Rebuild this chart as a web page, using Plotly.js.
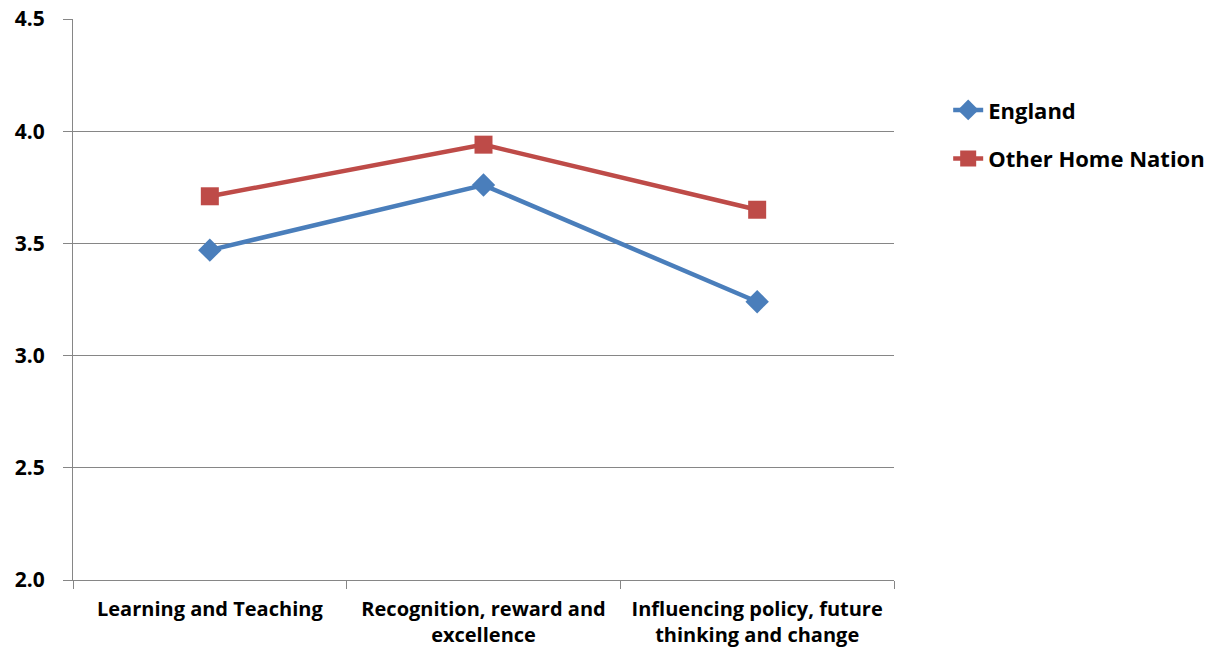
<!DOCTYPE html>
<html>
<head>
<meta charset="utf-8">
<script src="https://cdn.plot.ly/plotly-3.0.1.min.js"></script>
<style>
  html, body { margin: 0; padding: 0; background: #ffffff; }
  #chart { width: 1213px; height: 653px; }
</style>
</head>
<body>
<div id="chart"></div>
<script>
// Mean scores by area, for England and the other home nations
const categories = [
  "Learning and Teaching",
  "Recognition, reward and<br>excellence",
  "Influencing policy, future<br>thinking and change"
];
const englandScores = [3.47, 3.76, 3.24];
const otherNationScores = [3.71, 3.94, 3.65];

const FONT = "'Open Sans', 'Liberation Sans', sans-serif";

const traces = [
  {
    type: "scatter",
    mode: "lines+markers",
    name: "England",
    legendgroup: "a",
    x: categories,
    y: englandScores,
    line: { color: "#4A7EBB", width: 4.5 },
    marker: { symbol: "diamond", size: 18, color: "#4A7EBB" }
  },
  {
    type: "scatter",
    mode: "lines+markers",
    name: "Other Home Nation",
    legendgroup: "b",
    x: categories,
    y: otherNationScores,
    line: { color: "#BE4B48", width: 4.5 },
    marker: { symbol: "square", size: 18, color: "#BE4B48" }
  }
];

const layout = {
  width: 1213,
  height: 653,
  margin: { l: 73, r: 319, t: 19, b: 73, autoexpand: false },
  paper_bgcolor: "#ffffff",
  plot_bgcolor: "#ffffff",
  font: { family: FONT, color: "#000000" },
  showlegend: true,
  legend: {
    x: 1.066,
    y: 0.875,
    xanchor: "left",
    yanchor: "top",
    traceorder: "grouped",
    tracegroupgap: 17,
    font: { family: FONT, size: 22, color: "#000000", weight: "bold" },
    bgcolor: "rgba(0,0,0,0)"
  },
  xaxis: {
    type: "category",
    range: [-0.5, 2.5],
    automargin: false,
    showgrid: false,
    showline: true,
    linecolor: "#868686",
    linewidth: 1,
    ticks: "outside",
    tickson: "boundaries",
    ticklen: 8,
    tickcolor: "#868686",
    ticklabelstandoff: 11,
    tickfont: { family: FONT, size: 20, color: "#000000", weight: "bold" },
    fixedrange: true
  },
  yaxis: {
    range: [2.0, 4.5],
    dtick: 0.5,
    tick0: 2.0,
    tickformat: ".1f",
    automargin: false,
    showgrid: true,
    gridcolor: "#868686",
    gridwidth: 1,
    zeroline: false,
    showline: true,
    linecolor: "#868686",
    linewidth: 1,
    ticks: "outside",
    ticklen: 9,
    tickcolor: "#868686",
    ticklabelstandoff: 14,
    tickfont: { family: FONT, size: 21, color: "#000000", weight: "bold" },
    fixedrange: true
  }
};

Plotly.newPlot("chart", traces, layout, { displayModeBar: false, staticPlot: true });
</script>
</body>
</html>
